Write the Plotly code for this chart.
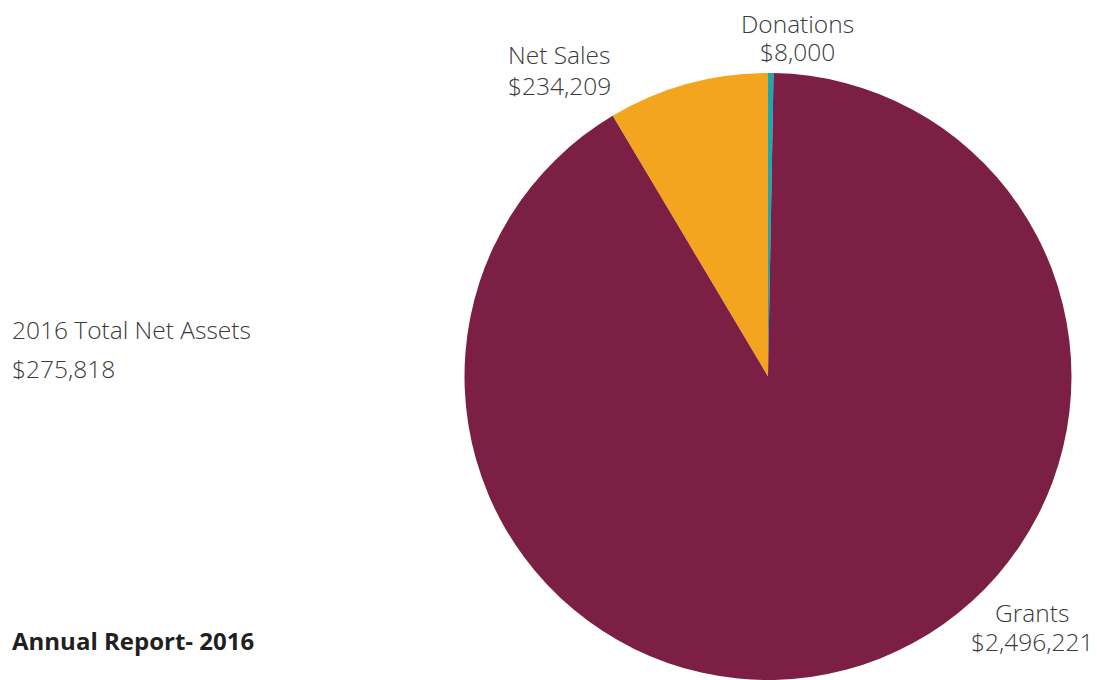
import plotly.graph_objects as go

# page body adds an 8px offset; figure is sized so it fills the 1097x680 window
OFF = 8
W, H = 1097 - OFF, 680 - OFF

categories = ["Donations", "Net Sales", "Grants"]
values = [8000, 234209, 2496221]
value_labels = ["$8,000", "$234,209", "$2,496,221"]
colors = ["#1AA8B2", "#F4A51F", "#7B1F45"]

side_title = "2016 Total Net Assets"
side_value = "$275,818"
footer = "Annual Report- 2016"


def px(x):
    return (x - OFF) / W


def py(y):
    return 1 - (y - OFF) / H


fig = go.Figure()
fig.add_trace(go.Pie(
    labels=categories,
    values=values,
    marker=dict(colors=colors, line=dict(width=0)),
    sort=False,
    direction="counterclockwise",
    rotation=0,
    textinfo="none",
    hoverinfo="label+value",
    showlegend=False,
    domain=dict(x=[px(463), px(1073)], y=[0, py(73)]),
))

font_light = dict(family="Open Sans", size=24.5, color="#3a3a3a", weight=300)

label_pos = {
    "Donations": (797, 23, 52),
    "Net Sales": (559, 55, 85),
    "Grants": (1032, 612, 641),
}
for cat, val in zip(categories, value_labels):
    x, y1, y2 = label_pos[cat]
    fig.add_annotation(x=px(x), y=py(y1), xref="paper", yref="paper", text=cat,
                       showarrow=False, xanchor="center", yanchor="middle",
                       borderpad=0, height=27, font=font_light)
    fig.add_annotation(x=px(x), y=py(y2), xref="paper", yref="paper", text=val,
                       showarrow=False, xanchor="center", yanchor="middle",
                       borderpad=0, height=27, font=font_light)

fig.add_annotation(x=px(10), y=py(329), xref="paper", yref="paper", text=side_title,
                   showarrow=False, xanchor="left", yanchor="middle", font=font_light)
fig.add_annotation(x=px(10), y=py(368), xref="paper", yref="paper", text=side_value,
                   showarrow=False, xanchor="left", yanchor="middle", font=font_light)
fig.add_annotation(x=px(10), y=py(640), xref="paper", yref="paper", text=footer,
                   showarrow=False, xanchor="left", yanchor="middle",
                   font=dict(family="Open Sans", size=24, color="#231f20", weight=700))

fig.update_layout(
    width=W, height=H,
    margin=dict(l=0, r=0, t=0, b=0),
    paper_bgcolor="white",
    plot_bgcolor="white",
)

fig.write_html("out.html")
